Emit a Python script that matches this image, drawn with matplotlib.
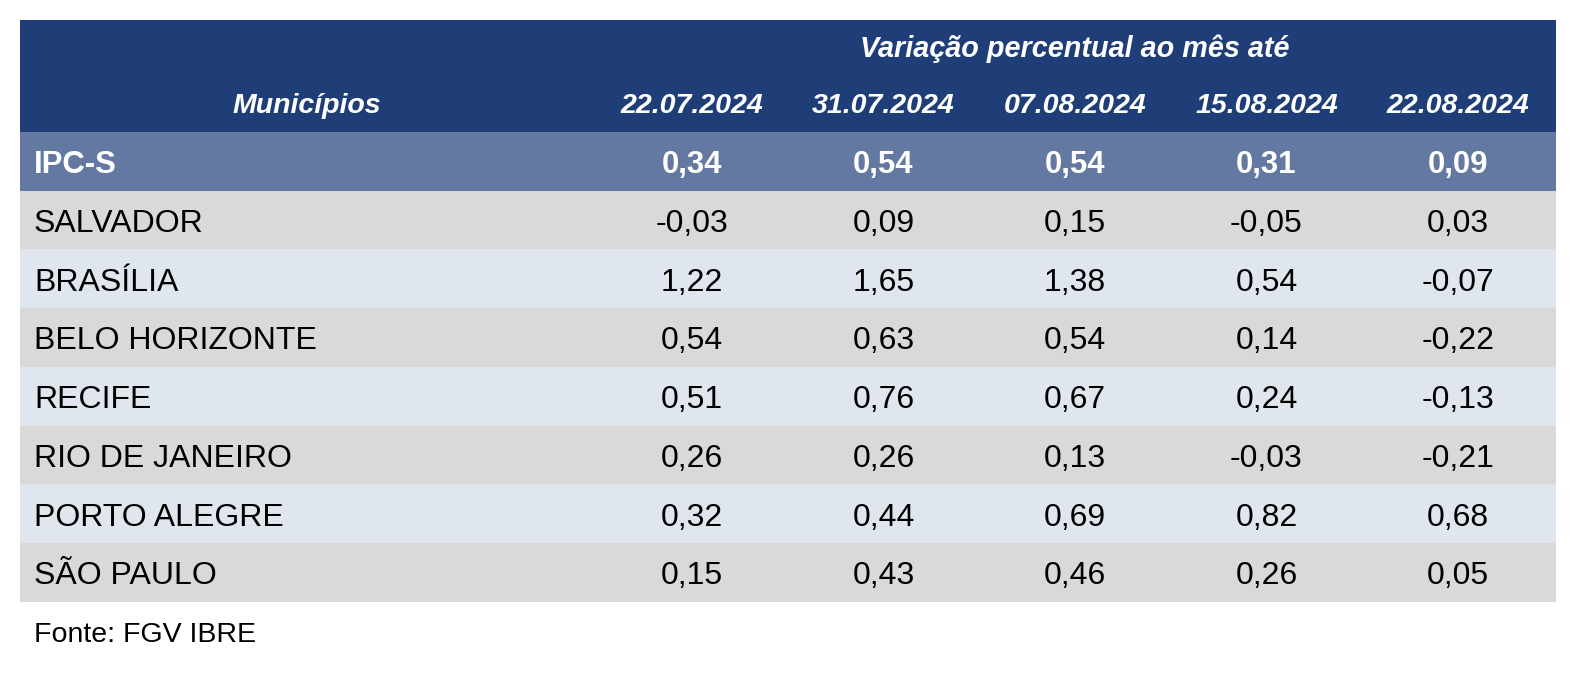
import matplotlib.pyplot as plt
from matplotlib.patches import Rectangle

plt.rcParams['font.family'] = ['Liberation Sans', 'DejaVu Sans']

titulo = 'Variação percentual ao mês até'
col_label = 'Municípios'
datas = ['22.07.2024', '31.07.2024', '07.08.2024', '15.08.2024', '22.08.2024']
ipc_s = ['0,34', '0,54', '0,54', '0,31', '0,09']
municipios = ['SALVADOR', 'BRASÍLIA', 'BELO HORIZONTE', 'RECIFE',
              'RIO DE JANEIRO', 'PORTO ALEGRE', 'SÃO PAULO']
valores = [
    ['-0,03', '0,09', '0,15', '-0,05', '0,03'],
    ['1,22', '1,65', '1,38', '0,54', '-0,07'],
    ['0,54', '0,63', '0,54', '0,14', '-0,22'],
    ['0,51', '0,76', '0,67', '0,24', '-0,13'],
    ['0,26', '0,26', '0,13', '-0,03', '-0,21'],
    ['0,32', '0,44', '0,69', '0,82', '0,68'],
    ['0,15', '0,43', '0,46', '0,26', '0,05'],
]
fonte = 'Fonte: FGV IBRE'

# cores
navy = '#1F3E77'
ipc_cor = '#6479A2'
cinza = '#D9D9D7'
azul_claro = '#DFE6EE'

W, H = 1576, 680
fig = plt.figure(figsize=(W / 100, H / 100), dpi=100)
ax = fig.add_axes([0, 0, 1, 1])
ax.set_xlim(0, W)
ax.set_ylim(H, 0)
ax.axis('off')

left, right = 20, 1556
top, head_bot = 20, 132
row_h = 58.7
col_x = [692 + 191.5 * i for i in range(len(datas))]
txt_x = 34

# cabeçalho
ax.add_patch(Rectangle((left, top), right - left, head_bot - top, color=navy, lw=0))
ax.text(col_x[2], 57, titulo, color='white', fontsize=20.7, fontweight='bold',
        fontstyle='italic', ha='center', va='baseline')
ax.text(307, 113, col_label, color='white', fontsize=20.5, fontweight='bold',
        fontstyle='italic', ha='center', va='baseline')
for x, d in zip(col_x, datas):
    ax.text(x, 113, d, color='white', fontsize=20.5, fontweight='bold',
            fontstyle='italic', ha='center', va='baseline')

# linha IPC-S
y0 = head_bot
ax.add_patch(Rectangle((left, y0), right - left, row_h, color=ipc_cor, lw=0))
yb = y0 + row_h / 2 + 11.5
ax.text(txt_x, yb, 'IPC-S', color='white', fontsize=22.4, fontweight='bold', va='baseline')
for x, v in zip(col_x, ipc_s):
    ax.text(x, yb, v, color='white', fontsize=22.4, fontweight='bold',
            ha='center', va='baseline')

# municípios
for i, (nome, linha) in enumerate(zip(municipios, valores)):
    y0 = head_bot + row_h * (i + 1)
    cor = cinza if i % 2 == 0 else azul_claro
    ax.add_patch(Rectangle((left, y0), right - left, row_h + 0.5, color=cor, lw=0))
    yb = y0 + row_h / 2 + 12
    ax.text(txt_x, yb, nome, color='black', fontsize=23, va='baseline')
    for x, v in zip(col_x, linha):
        ax.text(x, yb, v, color='black', fontsize=23, ha='center', va='baseline')

ax.text(txt_x, 642, fonte, color='black', fontsize=20.5, va='baseline')

fig.savefig('out.png', dpi=100, facecolor='white')
